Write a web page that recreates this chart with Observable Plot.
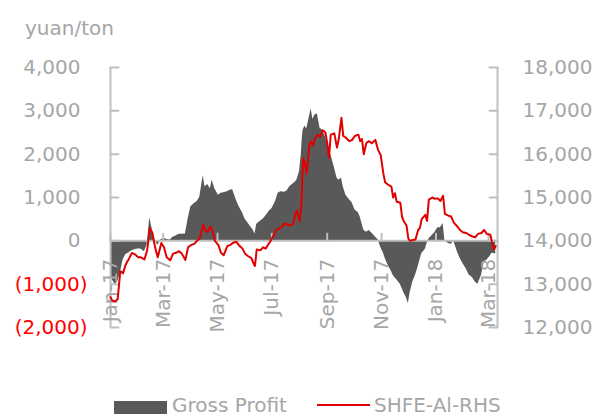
<!DOCTYPE html>
<html>
<head>
<meta charset="utf-8">
<script src="https://cdn.jsdelivr.net/npm/d3@7"></script>
<script src="https://cdn.jsdelivr.net/npm/@observablehq/plot@0.6"></script>
<style>
  html, body { margin: 0; padding: 0; background: #fff; }
  #wrap { position: relative; width: 597px; height: 414px; overflow: hidden; font-family: "DejaVu Sans", sans-serif; }
  #unit { position: absolute; left: 25px; top: 18px; font-size: 20px; line-height: 20px; color: #a6a6a6; }
  .leg { position: absolute; font-size: 20px; line-height: 20px; color: #a6a6a6; white-space: nowrap; }
  .sw { position: absolute; }
</style>
</head>
<body>
<div id="wrap">
  <div id="chart"></div>
  <div id="unit">yuan/ton</div>
  <div class="sw" style="left:114px;top:401px;width:53px;height:20px;background:#595959"></div>
  <div class="leg" style="left:172px;top:395px">Gross Profit</div>
  <div class="sw" style="left:317px;top:404px;width:53px;height:2px;background:#e00000"></div>
  <div class="leg" style="left:374px;top:395px">SHFE-Al-RHS</div>
</div>
<script>
// ---- data ----
const dates = [
  "2017-01-03","2017-01-05","2017-01-08","2017-01-11","2017-01-14","2017-01-17","2017-01-20","2017-01-24","2017-01-27","2017-01-31",
  "2017-02-03","2017-02-06","2017-02-10","2017-02-13","2017-02-15","2017-02-16","2017-02-19","2017-02-22","2017-02-25","2017-03-01",
  "2017-03-04","2017-03-07","2017-03-11","2017-03-14","2017-03-18","2017-03-21","2017-03-24","2017-03-28","2017-03-31","2017-04-03",
  "2017-04-07","2017-04-10","2017-04-13","2017-04-17","2017-04-19","2017-04-22","2017-04-25","2017-04-27","2017-04-30","2017-05-04",
  "2017-05-07","2017-05-10","2017-05-14","2017-05-17","2017-05-20","2017-05-24","2017-05-27","2017-05-31","2017-06-03","2017-06-06",
  "2017-06-10","2017-06-12","2017-06-14","2017-06-16","2017-06-20","2017-06-23","2017-06-26","2017-06-30","2017-07-03","2017-07-07",
  "2017-07-10","2017-07-13","2017-07-17","2017-07-20","2017-07-23","2017-07-27","2017-07-29","2017-07-31","2017-08-03","2017-08-05",
  "2017-08-06","2017-08-07","2017-08-09","2017-08-11","2017-08-14","2017-08-16","2017-08-18","2017-08-20","2017-08-23","2017-08-26",
  "2017-08-29","2017-09-01","2017-09-03","2017-09-05","2017-09-07","2017-09-11","2017-09-14","2017-09-16","2017-09-19","2017-09-21",
  "2017-09-24","2017-09-28","2017-10-01","2017-10-04","2017-10-08","2017-10-10","2017-10-12","2017-10-14","2017-10-17","2017-10-20",
  "2017-10-23","2017-10-27","2017-10-30","2017-11-02","2017-11-05","2017-11-07","2017-11-10","2017-11-14","2017-11-16","2017-11-18",
  "2017-11-20","2017-11-24","2017-11-26","2017-11-28","2017-12-01","2017-12-03","2017-12-05","2017-12-08","2017-12-11","2017-12-14",
  "2017-12-16","2017-12-18","2017-12-22","2017-12-24","2017-12-26","2017-12-30","2018-01-02","2018-01-05","2018-01-08","2018-01-11",
  "2018-01-13","2018-01-17","2018-01-20","2018-01-23","2018-01-27","2018-01-30","2018-02-02","2018-02-06","2018-02-09","2018-02-13",
  "2018-02-16","2018-02-19","2018-02-23","2018-02-26","2018-03-01","2018-03-05","2018-03-07","2018-03-09","2018-03-11"
];
const grossProfit = [
  -700,-900,-1000,-950,-750,-450,-320,-270,-230,-200,
  -190,-190,-250,-100,300,530,250,0,-100,30,
  60,30,20,80,120,150,150,160,500,780,
  860,900,1000,1500,1250,1300,1200,1400,1200,1050,
  1100,1110,1130,1170,1180,950,800,650,500,420,
  300,250,160,380,450,500,570,680,740,900,
  1100,1130,1120,1150,1250,1320,1350,1400,1600,2000,
  2350,2550,2650,2580,2850,3050,2800,2900,2930,2600,
  2550,2400,2250,2100,2000,1700,1450,1400,1450,1250,
  1050,950,880,720,650,550,400,250,200,240,
  180,90,30,-150,-280,-400,-550,-700,-800,-850,
  -900,-1000,-1100,-1200,-1320,-1450,-1200,-950,-800,-600,
  -450,-300,-200,-60,40,130,200,300,300,400,
  0,-60,-80,-10,-250,-400,-520,-650,-780,-850,
  -950,-1000,-800,-500,-450,-350,-280,-300,-300
];
const shfeAl = [
  12700,12620,12600,12650,13300,13250,13450,13600,13720,13680,
  13620,13620,13570,13770,14100,14300,14180,13850,13620,13950,
  13850,13620,13550,13700,13730,13760,13700,13560,13850,13900,
  13930,14000,14050,14380,14250,14200,14330,14250,14000,13900,
  13720,13670,13880,13900,13950,13980,13900,13820,13700,13650,
  13600,13500,13420,13800,13780,13850,13820,13950,14050,14230,
  14280,14300,14400,14380,14350,14390,14600,14700,14450,14800,
  15350,15900,15800,15550,16200,16300,16200,16350,16450,16400,
  16550,16500,16260,15920,16450,16480,16150,16350,16840,16420,
  16380,16300,16330,16420,16450,16300,16350,16000,16260,16300,
  16250,16330,16100,15980,15550,15350,15300,15250,15000,15100,
  14900,14880,14550,14450,14350,14050,14000,14020,14030,14250,
  14300,14500,14600,14460,14950,15000,14970,14980,14920,15040,
  14620,14580,14560,14420,14330,14250,14200,14180,14140,14100,
  14080,14160,14180,14250,14160,14140,13950,13800,13880
];
const leftTicks = [-2000, -1000, 0, 1000, 2000, 3000, 4000];
const rightTicks = [12000, 13000, 14000, 15000, 16000, 17000, 18000];
const xTickDates = ["2017-01-03","2017-03-03","2017-05-03","2017-07-03","2017-09-03","2017-11-03","2018-01-03","2018-03-03"];
const xDomain = ["2017-01-03", "2018-03-13"];
const priceAtZero = 14000; // right-axis value aligned with left-axis 0

// ---- build ----
const rows = dates.map((d, i) => ({date: new Date(d), gp: grossProfit[i], price: shfeAl[i]}));
const xTicks = xTickDates.map(d => new Date(d));
const xDom = xDomain.map(d => new Date(d));
const fmt = d3.format(",");
const axisGrey = "#bfbfbf";
const labelGrey = "#a6a6a6";
const tickShape = {draw(ctx, l) { ctx.moveTo(0, 0); ctx.lineTo(0, -l); }};

const chart = Plot.plot({
  width: 597,
  height: 340,
  marginLeft: 110,
  marginRight: 100,
  marginTop: 67,
  marginBottom: 13,
  style: {fontFamily: "DejaVu Sans, sans-serif", background: "transparent"},
  x: {type: "utc", domain: xDom, axis: null},
  y: {domain: [-2000, 4000], axis: null},
  marks: [
    Plot.areaY(rows, {x: "date", y: "gp", fill: "#595959"}),
    Plot.ruleY([0], {stroke: axisGrey, strokeWidth: 2}),
    Plot.vector(xTicks, {x: d => d, y: () => 0, length: 7, rotate: 0, anchor: "start", shape: tickShape, stroke: axisGrey, strokeWidth: 2}),
    Plot.ruleX([xDom[0]], {stroke: axisGrey, strokeWidth: 2}),
    Plot.ruleX([xDom[1]], {stroke: axisGrey, strokeWidth: 2}),
    Plot.vector(leftTicks, {y: d => d, frameAnchor: "left", length: 8, rotate: 90, anchor: "start", shape: tickShape, stroke: axisGrey, strokeWidth: 2}),
    Plot.vector(rightTicks, {y: d => d - priceAtZero, frameAnchor: "right", length: 8, rotate: -90, anchor: "start", shape: tickShape, stroke: axisGrey, strokeWidth: 2}),
    Plot.text(xTicks, {x: d => d, y: () => 0, text: d => d3.utcFormat("%b-%y")(d), rotate: -90, textAnchor: "end", dy: 18, fill: labelGrey, fontSize: 20}),
    Plot.line(rows, {x: "date", y: d => d.price - priceAtZero, stroke: "#e00000", strokeWidth: 2}),
    Plot.text(leftTicks.filter(d => d >= 0), {y: d => d, frameAnchor: "left", text: d => fmt(d), textAnchor: "end", dx: -30, fill: labelGrey, fontSize: 20}),
    Plot.text(leftTicks.filter(d => d < 0), {y: d => d, frameAnchor: "left", text: d => "(" + fmt(-d) + ")", textAnchor: "end", dx: -23, fill: "#ff0000", fontSize: 20}),
    Plot.text(rightTicks, {y: d => d - priceAtZero, frameAnchor: "right", text: d => fmt(d), textAnchor: "start", dx: 25, fill: labelGrey, fontSize: 20})
  ]
});
document.getElementById("chart").appendChild(chart);
</script>
</body>
</html>
